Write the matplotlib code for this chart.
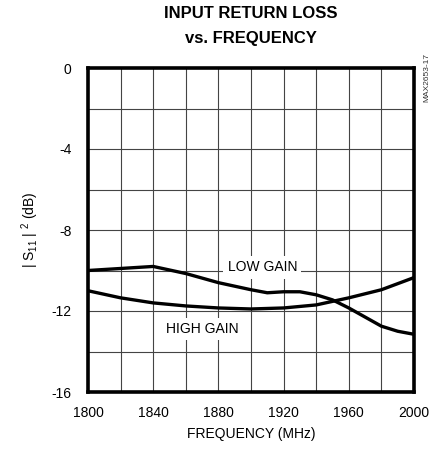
#!/usr/bin/python
"""
Input return loss vs. frequency, low gain and high gain curves.
"""

import matplotlib
matplotlib.use("Agg")
import matplotlib.pyplot as plt

# data
freq_low = [1800, 1820, 1840, 1860, 1880, 1900, 1910, 1920, 1930, 1940, 1950, 1960, 1970, 1980, 1990, 2000]
s11_low = [-10.0, -9.9, -9.8, -10.15, -10.6, -10.95, -11.1, -11.05, -11.05, -11.2, -11.45, -11.85, -12.3, -12.75, -13.0, -13.15]

freq_high = [1800, 1820, 1840, 1860, 1880, 1900, 1920, 1940, 1960, 1980, 2000]
s11_high = [-11.0, -11.35, -11.6, -11.75, -11.85, -11.9, -11.85, -11.7, -11.35, -10.95, -10.35]

x_ticks = [1800, 1840, 1880, 1920, 1960, 2000]
y_ticks = [0, -4, -8, -12, -16]

FONT = ["Liberation Sans Narrow", "Liberation Sans", "DejaVu Sans"]


def main():
    plt.rcParams['font.family'] = FONT
    plt.rcParams['axes.unicode_minus'] = False
    plt.rcParams['mathtext.fontset'] = 'custom'
    plt.rcParams['mathtext.rm'] = 'Liberation Sans'
    plt.rcParams['mathtext.it'] = 'Liberation Sans'

    fig = plt.figure(figsize=(4.41, 4.53), dpi=100)
    ax = fig.add_axes([88 / 441, 61 / 453, 326 / 441, 324 / 453])

    ax.set_xlim(1800, 2000)
    ax.set_ylim(-16, 0)

    # grid every 20 MHz / 2 dB
    for x in range(1820, 2000, 20):
        ax.axvline(x, color="#444444", lw=0.8, zorder=1)
    for y in range(-14, 0, 2):
        ax.axhline(y, color="#444444", lw=0.8, zorder=1)

    ax.plot(freq_low, s11_low, color="black", lw=2.4, zorder=3)
    ax.plot(freq_high, s11_high, color="black", lw=2.4, zorder=3)

    box = dict(facecolor="white", edgecolor="none", pad=3)
    ax.text(1907, -9.85, "LOW GAIN", ha="center", va="center", fontsize=10, bbox=box, zorder=2)
    ax.text(1870, -12.9, "HIGH GAIN", ha="center", va="center", fontsize=10, bbox=box, zorder=2)

    ax.set_xticks(x_ticks)
    ax.set_yticks(y_ticks)
    ax.tick_params(length=0, labelsize=10)
    ax.tick_params(axis="x", pad=10)
    ax.tick_params(axis="y", pad=12)
    for s in ax.spines.values():
        s.set_linewidth(2.6)
        s.set_zorder(4)

    ax.set_xlabel("FREQUENCY (MHz)", fontsize=10, labelpad=5)
    ax.set_ylabel(r"| S$_{11}$ | $^{2}$ (dB)", fontsize=10, labelpad=7)

    fig.text(251 / 441, 1 - 14 / 453, "INPUT RETURN LOSS", ha="center", va="center",
             fontsize=12, fontweight="bold")
    fig.text(251 / 441, 1 - 39 / 453, "vs. FREQUENCY", ha="center", va="center",
             fontsize=12, fontweight="bold")
    fig.text(427 / 441, 1 - 78 / 453, "MAX2653-17", rotation=90, ha="center", va="center",
             fontsize=6, color="#333333")

    fig.savefig("out.png", dpi=100)


if __name__ == "__main__":
    main()
